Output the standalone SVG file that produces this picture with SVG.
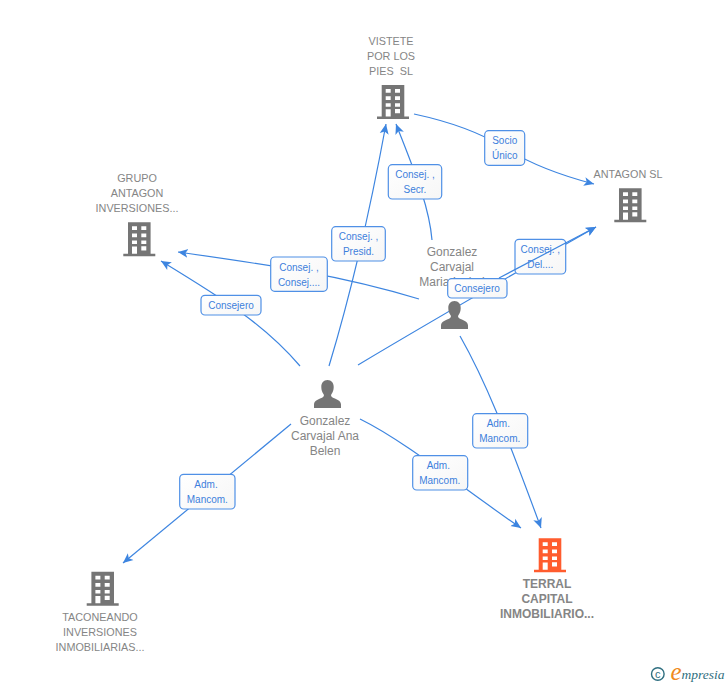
<svg xmlns="http://www.w3.org/2000/svg" width="728" height="685" viewBox="0 0 728 685">
<style>
.c{fill:none;stroke:#3d85e0;stroke-width:1.2;marker-end:url(#a)}
.b{fill:url(#g);stroke:#4f90e6;stroke-width:1.2}
.l{font:10px "Liberation Sans",Arial,sans-serif;fill:#3d7fdc;text-anchor:middle}
.t{font:10.8px "Liberation Sans",Arial,sans-serif;fill:#858585;text-anchor:middle}
.p{font:12px "Liberation Sans",Arial,sans-serif;fill:#858585;text-anchor:middle}
.h{font:bold 12px "Liberation Sans",Arial,sans-serif}
</style>
<defs>
<linearGradient id="g" x1="0" y1="0" x2="1" y2="1"><stop offset="0" stop-color="#fff"/><stop offset="1" stop-color="#f6f6f6"/></linearGradient>
<marker id="a" markerUnits="userSpaceOnUse" markerWidth="14" markerHeight="14" refX="10" refY="7" orient="auto"><path d="M0 2.500L10 7L0 11.500L2.500 7Z" fill="#3d85e0"/></marker>
<path id="bp" fill-rule="evenodd" d="M4.700 0H27.300V31.500H32V34H0V31.500H4.700ZM8.700 4V7.700H13.700V4ZM18 4V7.700H23V4ZM8.700 11.300V15H13.700V11.300ZM18 11.300V15H23V11.300ZM8.700 18.300V21.700H13.700V18.300ZM18 18.300V21.700H23V18.300ZM8.700 24.300V31.500H13.700V24.300ZM18 24V28.300H23V24Z"/>
<path id="pp" d="M13.500 0C9.500 0 7.300 3 7.300 7C7.300 10 8.200 12.500 9.600 14.200C10.200 15 10 16.500 8.800 17.200C5.500 19 0 20 0 24.500V28H27V24.500C27 20 21.500 19 18.200 17.200C17 16.500 16.800 15 17.400 14.200C18.800 12.500 19.700 10 19.700 7C19.700 3 17.500 0 13.500 0Z"/>
</defs>
<rect width="728" height="685" fill="#fff"/>
<g id="connectors">
<path class="c" d="M414 114Q470 126 505 148T594 184"/>
<path class="c" d="M432 240C429 205 414 170 396 124"/>
<path class="c" d="M329 366C352 290 372 200 386 124"/>
<path class="c" d="M419 299C340 275 270 265 178 252"/>
<path class="c" d="M300 366C265 325 225 300 161 261"/>
<path class="c" d="M358 365Q450 310 596 227"/>
<path class="c" d="M360 419C405 441 465 490 521 528"/>
<path class="c" d="M460 336C485 380 505 430 541 528"/>
<path class="c" d="M291 424L123 563"/>
</g>
<g id="vistete"><use href="#bp" x="377" y="85" fill="#757575"/><text class="t" x="391" y="45">VISTETE</text><text class="t" x="391" y="60">POR LOS</text><text class="t" x="391" y="75">PIES&#160; SL</text></g>
<g id="antagon"><use href="#bp" x="614.300" y="188.300" fill="#757575"/><text class="t" x="628" y="178">ANTAGON SL</text></g>
<g id="grupo"><use href="#bp" x="123.300" y="222.300" fill="#757575"/><text class="t" x="137" y="182">GRUPO</text><text class="t" x="137" y="197">ANTAGON</text><text class="t" x="137" y="212">INVERSIONES...</text></g>
<g id="terral"><use href="#bp" x="534" y="538.300" fill="#ff5c2e"/><text class="t h" x="547" y="588">TERRAL</text><text class="t h" x="547" y="603">CAPITAL</text><text class="t h" x="547" y="618">INMOBILIARIO...</text></g>
<g id="taconeando"><use href="#bp" x="86.700" y="571.700" fill="#757575"/><text class="t" x="100" y="621">TACONEANDO</text><text class="t" x="100" y="636">INVERSIONES</text><text class="t" x="100" y="651">INMOBILIARIAS...</text></g>
<g id="ana"><use href="#pp" x="314" y="380" fill="#757575"/><text class="p" x="325" y="425">Gonzalez</text><text class="p" x="325" y="440">Carvajal Ana</text><text class="p" x="325" y="455">Belen</text></g>
<g id="maria"><use href="#pp" x="441" y="301" fill="#757575"/><text class="p" x="452" y="256">Gonzalez</text><text class="p" x="452" y="271">Carvajal</text><text class="p" x="452" y="286">Maria Isabel</text></g>
<g id="labels">
<g><rect class="b" x="484.700" y="130.700" width="40" height="34.600" rx="4"/><text class="l" x="504.700" y="144">Socio</text><text class="l" x="504.700" y="159">Único</text></g>
<g><rect class="b" x="388.300" y="164.700" width="53.400" height="34.300" rx="4"/><text class="l" x="415" y="178">Consej. ,</text><text class="l" x="415" y="193">Secr.</text></g>
<g><rect class="b" x="331.700" y="226.700" width="53.600" height="34.300" rx="4"/><text class="l" x="358.500" y="240">Consej. ,</text><text class="l" x="358.500" y="255">Presid.</text></g>
<g><rect class="b" x="270.700" y="257" width="56.600" height="34.300" rx="4"/><text class="l" x="299" y="270.500">Consej. ,</text><text class="l" x="299" y="285.500">Consej....</text></g>
<g><rect class="b" x="201" y="295.300" width="60" height="19.700" rx="4"/><text class="l" x="231" y="309">Consejero</text></g>
<g><rect class="b" x="515" y="239.300" width="50.700" height="34.700" rx="4"/><text class="l" x="540.300" y="253">Consej. ,</text><text class="l" x="540.300" y="268">Del....</text></g>
<g><rect class="b" x="447.700" y="278.700" width="59.300" height="19.300" rx="4"/><text class="l" x="477" y="292">Consejero</text></g>
<g><rect class="b" x="472.700" y="413.700" width="55" height="34.300" rx="4"/><text class="l" x="498.300" y="427">Adm.</text><text class="l" x="499.700" y="442">Mancom.</text></g>
<g><rect class="b" x="412.700" y="455.700" width="55" height="34.300" rx="4"/><text class="l" x="438.300" y="469">Adm.</text><text class="l" x="439.700" y="484">Mancom.</text></g>
<g><rect class="b" x="179.700" y="474.300" width="55.300" height="34.700" rx="4"/><text class="l" x="206" y="488">Adm.</text><text class="l" x="207.300" y="503">Mancom.</text></g>
</g>
<g id="connector-over"><path class="c" d="M499 278L596 227"/></g>
<g id="logo"><circle cx="657.800" cy="674" r="6.300" fill="none" stroke="#2f6f80" stroke-width="1.400"/><text x="657.800" y="677.800" font-family="Liberation Sans, sans-serif" font-size="11" fill="#2f6f80" text-anchor="middle">c</text><text x="670.500" y="680" font-family="Liberation Serif, serif" font-style="italic" font-size="25" fill="#f08a1d">e</text><text x="681.500" y="679" font-family="Liberation Serif, serif" font-style="italic" font-size="13.500" fill="#2f6f80">mpresia</text></g>
</svg>
